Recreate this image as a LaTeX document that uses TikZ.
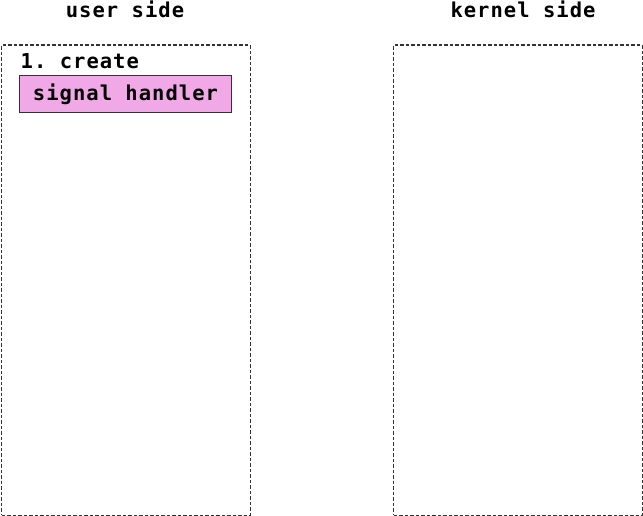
\documentclass[tikz,border=0pt]{standalone}
\usepackage{fontspec}
\setmonofont{DejaVu Sans Mono}[LetterSpace=5]
\definecolor{pinkfill}{RGB}{240,168,230}
\definecolor{edgegray}{RGB}{50,50,50}
\tikzset{
  side/.style={draw=edgegray, line width=1.1pt, dash pattern=on 3.5pt off 2pt},
  lbl/.style={font=\ttfamily\bfseries\fontsize{20.5}{22}\selectfont, inner sep=0pt, text=black},
  handlerbox/.style={draw=edgegray, line width=0.9pt, fill=pinkfill, minimum width=212pt, minimum height=37pt, inner sep=0pt, font=\ttfamily\bfseries\fontsize{20.5}{22}\selectfont}
}
\begin{document}
\begin{tikzpicture}[x=1pt,y=-1pt]
\useasboundingbox (0,0) rectangle (643,516);
\node[side, minimum width=248.5pt, minimum height=470pt, anchor=north west, inner sep=0pt] (user) at (1,44.5) {};
\node[side, minimum width=248.5pt, minimum height=470pt, anchor=north west, inner sep=0pt] (kernel) at (393,44.5) {};
\node[lbl, anchor=base] (usertitle) at (125,17.5) {user side};
\node[lbl, anchor=base] (kerneltitle) at (523,17.5) {kernel side};
\node[lbl, anchor=base west] (create) at (20.5,68.5) {1. create};
\node[handlerbox] (handler) at (125.5,94) {signal handler};
\end{tikzpicture}
\end{document}
